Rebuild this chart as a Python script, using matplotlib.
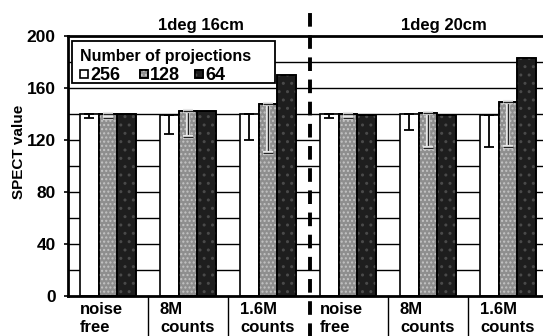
import matplotlib
matplotlib.use("Agg")
import matplotlib.pyplot as plt
import matplotlib.patheffects as pe
from matplotlib.patches import Rectangle
import numpy as np

plt.rcParams['font.family'] = ['Liberation Sans', 'DejaVu Sans']
plt.rcParams['font.weight'] = 'bold'

# Reconstructed SPECT values per acquisition condition
conditions = ["noise\nfree", "8M\ncounts", "1.6M\ncounts",
              "noise\nfree", "8M\ncounts", "1.6M\ncounts"]
panels = ["1deg 16cm", "1deg 20cm"]
proj_labels = ["256", "128", "64"]
vals_256 = [140, 139, 140, 140, 140, 139]
vals_128 = [140, 142, 148, 140, 141, 149]
vals_64 = [140, 142, 170, 139, 139, 183]
err_256 = [3, 14, 20, 3, 12, 24]
err_128 = [3, 20, 38, 3, 27, 34]
y_ticks = [0, 40, 80, 120, 160, 200]

W, H = 543, 336
fig = plt.figure(figsize=(W / 100, H / 100), dpi=100)
ax = fig.add_axes([68 / W, 1 - 296 / H, 480 / W, 260 / H])

x = np.arange(len(conditions))
w = 0.235
colors = ["white", "#8e8e8e", "#1e1e1e"]
hatches = [None, "....", ".."]
hatch_cols = [None, "#c4c4c4", "#4a4a4a"]
series = [vals_256, vals_128, vals_64]
offs = [-w, 0.0, w]

# horizontal grid every 20 units behind the bars
for g in range(20, 200, 20):
    ax.axhline(g, color="black", lw=1.0, zorder=1)

for vals, c, o, h, hc in zip(series, colors, offs, hatches, hatch_cols):
    ax.bar(x + o, vals, width=w, color=c, edgecolor="black",
           linewidth=1.2, zorder=2)
    if h:
        ax.bar(x + o, vals, width=w, color="none", edgecolor=hc,
               hatch=h, linewidth=0, zorder=2.1)
        ax.bar(x + o, vals, width=w, color="none", edgecolor="black",
               linewidth=1.2, zorder=2.2)

# lower error bars
ax.errorbar(x - w, vals_256, yerr=[err_256, [0] * len(x)], fmt="none",
            ecolor="black", elinewidth=1.3, capsize=3.3, capthick=1.3,
            zorder=3)
eb = ax.errorbar(x, vals_128, yerr=[err_128, [0] * len(x)], fmt="none",
                 ecolor="#222222", elinewidth=1.0, capsize=3.3, capthick=1.0,
                 zorder=3)
for art in eb.lines[1] + eb.lines[2]:
    art.set_path_effects([pe.withStroke(linewidth=3, foreground="#e8e8e8")])

ax.set_xlim(-0.5, 5.5)
ax.set_ylim(0, 200)
ax.set_yticks(y_ticks)
ax.set_yticklabels([str(t) for t in y_ticks], fontsize=12.5, fontweight="bold")
ax.tick_params(axis="y", direction="out", length=3, width=1.2, pad=6)
ax.set_xticks([])
for s in ["left", "bottom", "top"]:
    ax.spines[s].set_linewidth(2)
ax.spines["right"].set_visible(False)

fig.text(19 / W, 1 - 152 / H, "SPECT value", rotation=90, ha="center",
         va="center", fontsize=11, fontweight="bold")

# condition labels and separators below the axis
trans = ax.get_xaxis_transform()
for i, lab in enumerate(conditions):
    ax.text(i - 0.35, -0.025, lab, transform=trans, ha="left", va="top",
            fontsize=12, fontweight="bold", linespacing=1.2)
for xb in [0.5, 1.5, 3.5, 4.5]:
    ax.plot([xb, xb], [0, -0.16], transform=trans, color="black", lw=1.0,
            clip_on=False)
ax.plot([2.52, 2.52], [-0.16, 1.09], transform=trans, color="black", lw=2.8,
        dashes=(3.5, 2.2), clip_on=False, zorder=5)

ax.text(1.16, 1.012, panels[0], transform=trans, ha="center", va="bottom",
        fontsize=12, fontweight="bold")
ax.text(4.2, 1.012, panels[1], transform=trans, ha="center", va="bottom",
        fontsize=12, fontweight="bold")

# legend box, laid out in pixel positions of the axes
def ax_px(px, py):
    return ((px - 68) / 480, (296 - py) / 260)

bx0, by0 = ax_px(72, 83)
bx1, by1 = ax_px(275, 41)
ax.add_patch(Rectangle((bx0, by0), bx1 - bx0, by1 - by0, transform=ax.transAxes,
                       facecolor="white", edgecolor="black", linewidth=1.3,
                       zorder=6, clip_on=False))
tx, ty = ax_px(80, 61)
ax.text(tx, ty, "Number of projections", transform=ax.transAxes, ha="left",
        va="baseline", fontsize=11.5, fontweight="bold", zorder=7)
sq_x = [80, 140, 195]
for sx, lab, c, h, hc in zip(sq_x, proj_labels, colors, hatches, hatch_cols):
    qx0, qy0 = ax_px(sx, 77.5)
    qx1, qy1 = ax_px(sx + 8, 69.5)
    ax.add_patch(Rectangle((qx0, qy0), qx1 - qx0, qy1 - qy0,
                           transform=ax.transAxes, facecolor=c,
                           edgecolor="black", linewidth=1.2, zorder=7))
    if h:
        ax.add_patch(Rectangle((qx0, qy0), qx1 - qx0, qy1 - qy0,
                               transform=ax.transAxes, facecolor="none",
                               edgecolor=hc, hatch=h, linewidth=0, zorder=7.1))
        ax.add_patch(Rectangle((qx0, qy0), qx1 - qx0, qy1 - qy0,
                               transform=ax.transAxes, facecolor="none",
                               edgecolor="black", linewidth=1.2, zorder=7.2))
    lx, ly = ax_px(sx + 10, 80)
    ax.text(lx, ly, lab, transform=ax.transAxes, ha="left", va="baseline",
            fontsize=13, fontweight="bold", zorder=7)

fig.savefig("out.png", dpi=100)
